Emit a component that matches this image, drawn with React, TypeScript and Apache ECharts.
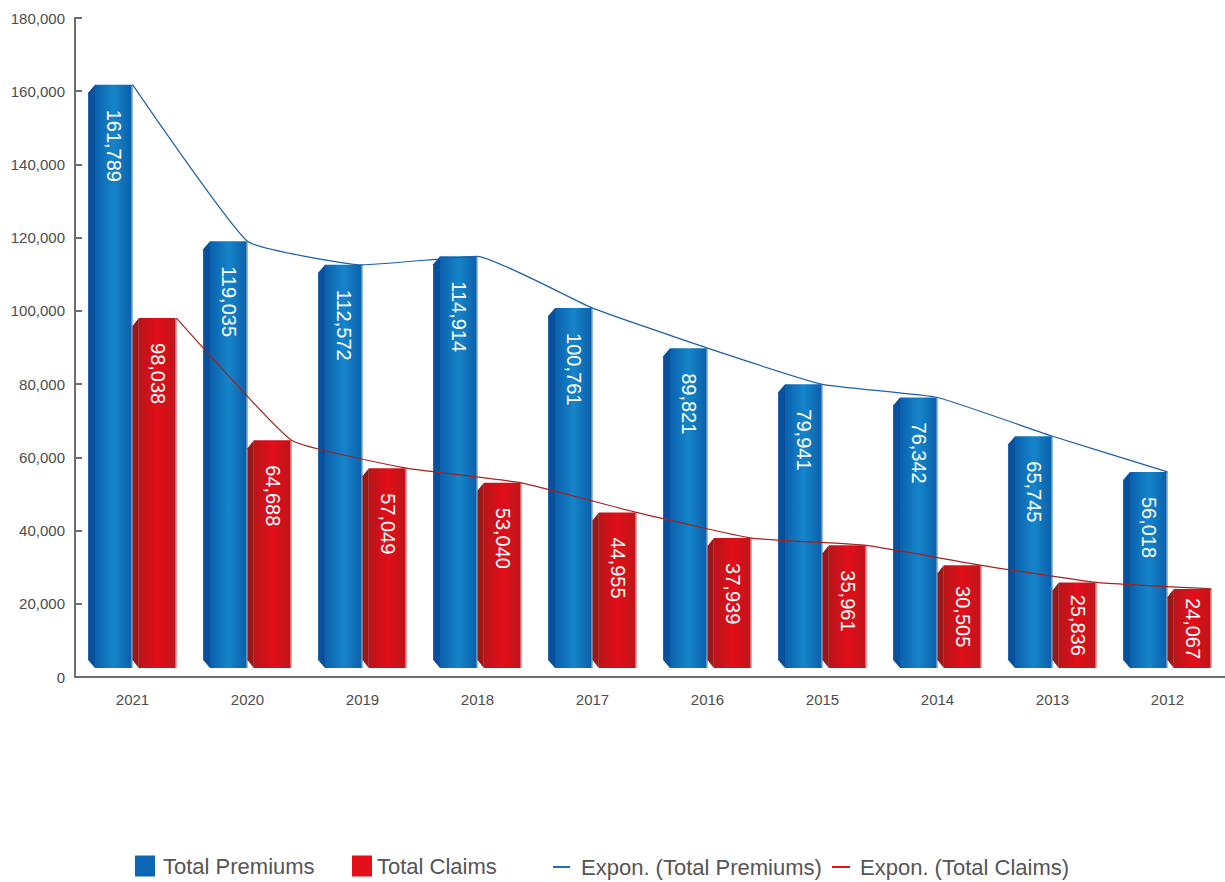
import React, { useEffect, useRef } from 'react';
import * as echarts from 'echarts';

const years = ['2021', '2020', '2019', '2018', '2017', '2016', '2015', '2014', '2013', '2012'];
const totalPremiums = [161789, 119035, 112572, 114914, 100761, 89821, 79941, 76342, 65745, 56018];
const totalClaims = [98038, 64688, 57049, 53040, 44955, 37939, 35961, 30505, 25836, 24067];
const yMin = 0;
const yMax = 180000;
const yInterval = 20000;

const FONT = '"Liberation Sans", Arial, Helvetica, sans-serif';

type BarLook = {
  sideL: number;
  frontL: number;
  frontR: number;
  side: string;
  stops: string[];
  edge: string;
};

const blueLook: BarLook = {
  sideL: -0.386,
  frontL: -0.326,
  frontR: 0,
  side: '#08509b',
  stops: ['#0a60ad', '#1585ca', '#0a5ea8'],
  edge: '#a9c4e2',
};
const redLook: BarLook = {
  sideL: 0,
  frontL: 0.055,
  frontR: 0.382,
  side: '#9a1718',
  stops: ['#b7151a', '#e20e19', '#bd151b'],
  edge: '#e8b0b0',
};

function fmt(v: number) {
  return v.toLocaleString('en-US');
}

function makeRenderer(look: BarLook) {
  return (params: any, api: any) => {
    const i = api.value(0);
    const v = api.value(1);
    const base = api.coord([i, 0]);
    const topP = api.coord([i, v]);
    const w = api.size([1, 0])[0];
    const c = base[0];
    const bottom = base[1] - 9;
    const top = topP[1];
    const sideL = c + look.sideL * w;
    const frontL = c + look.frontL * w;
    const frontR = c + look.frontR * w;
    const bev = 8;
    const label = fmt(v);
    const commas = (label.match(/,/g) || []).length;
    const labelLen = (label.length - commas) * 11.1 + commas * 5.6;
    const labelTop = Math.min(top + 25, (top + bottom) / 2 - labelLen / 2);
    return {
      type: 'group',
      children: [
        {
          type: 'polygon',
          shape: { points: [[sideL, top + bev], [frontL, top], [frontL, bottom], [sideL, bottom - bev]] },
          style: { fill: look.side },
        },
        {
          type: 'rect',
          shape: { x: frontL, y: top, width: frontR - frontL, height: bottom - top },
          style: {
            fill: new echarts.graphic.LinearGradient(0, 0, 1, 0, [
              { offset: 0, color: look.stops[0] },
              { offset: 0.5, color: look.stops[1] },
              { offset: 1, color: look.stops[2] },
            ]),
          },
        },
        {
          type: 'line',
          shape: { x1: frontR - 0.5, y1: top, x2: frontR - 0.5, y2: bottom },
          style: { stroke: look.edge, lineWidth: 1 },
        },
        {
          type: 'text',
          x: (frontL + frontR) / 2,
          y: labelTop,
          rotation: -Math.PI / 2,
          style: {
            text: label,
            x: 0,
            y: 0,
            align: 'left',
            verticalAlign: 'middle',
            fill: '#ffffff',
            fontSize: 20,
            fontFamily: FONT,
          },
        },
      ],
    };
  };
}

export default function App() {
  const ref = useRef<HTMLDivElement>(null);

  useEffect(() => {
    document.body.style.margin = '0';
    if (!ref.current) return;
    const chart = echarts.init(ref.current, undefined, { renderer: 'svg' });
    const legendText = { color: '#555555', fontSize: 22, fontFamily: FONT };
    chart.setOption({
      animation: false,
      backgroundColor: '#ffffff',
      textStyle: { fontFamily: FONT },
      grid: { left: 75, top: 18, width: 1159, height: 659 },
      xAxis: [
        {
          type: 'category',
          data: years,
          axisLine: { show: true, lineStyle: { color: '#6e6e6e', width: 2 } },
          axisTick: { show: false },
          axisLabel: { color: '#4d4d4d', fontSize: 15, margin: 15, fontFamily: FONT },
        },
        { type: 'value', min: 0, max: 10, show: false },
      ],
      yAxis: {
        type: 'value',
        min: yMin,
        max: yMax,
        interval: yInterval,
        axisLine: { show: true, lineStyle: { color: '#6e6e6e', width: 2 } },
        axisTick: { show: true, inside: true, length: 7, lineStyle: { color: '#6e6e6e', width: 2 } },
        splitLine: { show: false },
        axisLabel: { color: '#4d4d4d', fontSize: 15, margin: 10, fontFamily: FONT, formatter: (v: number) => fmt(v) },
      },
      legend: [
        {
          left: 135, top: 855, padding: 0, itemWidth: 20, itemHeight: 21, icon: 'rect',
          textStyle: { ...legendText, padding: [0, 0, 0, 3] },
          data: ['Total Premiums'],
        },
        {
          left: 352, top: 855, padding: 0, itemWidth: 20, itemHeight: 21, icon: 'rect',
          textStyle: { ...legendText, padding: [0, 0, 0, 0] },
          data: ['Total Claims'],
        },
        {
          left: 553, top: 856, padding: 0, itemWidth: 17, itemHeight: 2, icon: 'rect',
          textStyle: { ...legendText, padding: [0, 0, 0, 6] },
          data: [{ name: 'Expon. (Total Premiums)', itemStyle: { color: '#1e6db6' } }],
        },
        {
          left: 832, top: 856, padding: 0, itemWidth: 18, itemHeight: 2, icon: 'rect',
          textStyle: { ...legendText, padding: [0, 0, 0, 5] },
          data: [{ name: 'Expon. (Total Claims)', itemStyle: { color: '#e3101a' } }],
        },
      ],
      series: [
        {
          name: 'Total Premiums',
          type: 'custom',
          xAxisIndex: 0,
          itemStyle: { color: '#0b66b3' },
          renderItem: makeRenderer(blueLook),
          encode: { x: 0, y: 1 },
          data: totalPremiums.map((v, i) => [i, v]),
          z: 2,
        },
        {
          name: 'Total Claims',
          type: 'custom',
          xAxisIndex: 0,
          itemStyle: { color: '#e3101a' },
          renderItem: makeRenderer(redLook),
          encode: { x: 0, y: 1 },
          data: totalClaims.map((v, i) => [i, v]),
          z: 2,
        },
        {
          name: 'Expon. (Total Premiums)',
          type: 'line',
          xAxisIndex: 1,
          symbol: 'none',
          smooth: 0.12,
          lineStyle: { color: '#1d5fa9', width: 1.2 },
          itemStyle: { color: '#1d5fa9' },
          data: totalPremiums.map((v, i) => [i + 0.5 + blueLook.frontR, v]),
          z: 3,
        },
        {
          name: 'Expon. (Total Claims)',
          type: 'line',
          xAxisIndex: 1,
          symbol: 'none',
          smooth: 0.12,
          lineStyle: { color: '#a3231f', width: 1.2 },
          itemStyle: { color: '#a3231f' },
          data: totalClaims.map((v, i) => [i + 0.5 + redLook.frontR, v]),
          z: 3,
        },
      ],
    });
    return () => chart.dispose();
  }, []);

  return (
    <div
      ref={ref}
      style={{ position: 'absolute', left: 0, top: 0, width: 1225, height: 882, background: '#fff' }}
    />
  );
}
